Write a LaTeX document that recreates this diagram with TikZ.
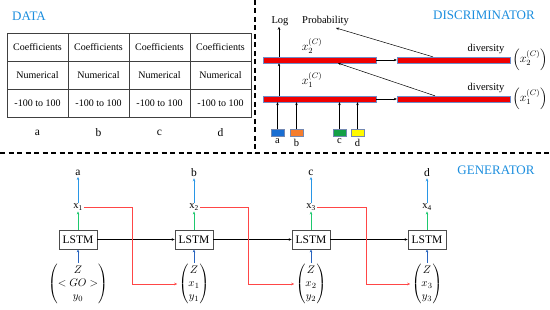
\documentclass[tikz,border=0pt]{standalone}
\usepackage{amsmath}
\usepackage{fontspec}
\setmainfont{Liberation Serif}
\usetikzlibrary{arrows.meta,calc}
\definecolor{ttl}{RGB}{28,142,222}
\definecolor{barred}{RGB}{240,0,0}
\definecolor{baredge}{RGB}{110,140,200}
\definecolor{lred}{RGB}{255,70,70}
\definecolor{lblue}{RGB}{40,150,230}
\definecolor{dblue}{RGB}{40,100,190}
\definecolor{lgreen}{RGB}{30,200,110}
\definecolor{bxblue}{RGB}{25,110,210}
\definecolor{bxorange}{RGB}{245,125,45}
\definecolor{bxgreen}{RGB}{20,160,70}
\definecolor{bxyellow}{RGB}{255,250,0}
\tikzset{
  title/.style={text=ttl,font=\fontsize{13}{15}\selectfont,inner sep=0pt},
  cell/.style={draw=black!75,line width=0.7pt,minimum width=61pt,minimum height=28pt,inner sep=0pt,font=\fontsize{10}{12}\selectfont},
  lbl/.style={font=\fontsize{11.5}{13}\selectfont,inner sep=1pt},
  txt/.style={font=\fontsize{10.5}{12}\selectfont,inner sep=1pt},
  mth/.style={font=\fontsize{12}{14}\selectfont,inner sep=1pt},
  bar/.style={draw=baredge,fill=barred,line width=0.3pt,minimum width=113pt,minimum height=6pt,inner sep=0pt},
  sbox/.style={draw=baredge!70!gray,line width=0.4pt,minimum width=13pt,minimum height=7pt,inner sep=0pt},
  lstm/.style={draw=black!70,fill=white,line width=0.7pt,minimum width=38pt,minimum height=19pt,inner sep=0pt,font=\fontsize{11.5}{13}\selectfont},
  vec/.style={font=\fontsize{11}{13}\selectfont,inner sep=1.5pt},
  arr/.style={-{Stealth[length=3pt,width=2.5pt]},line width=0.5pt},
  dsh/.style={dash pattern=on 5pt off 3.5pt,line width=1.3pt}
}
\begin{document}
\begin{tikzpicture}[x=1pt,y=-1pt]
\useasboundingbox (0,0) rectangle (550,310);
% dashed separators
\draw[dsh] (255,0) -- (255,153);
\draw[dsh] (0,153) -- (550,153);
% titles
\node[title] (tdata) at (29,16) {DATA};
\node[title] (tdisc) at (484,15) {DISCRIMINATOR};
\node[title] (tgen) at (496,170) {GENERATOR};
% table
\foreach \i/\l in {1/a,2/b,3/c,4/d}{
  \node[cell] (co\i) at (7+61*\i-30.5,47) {Coefficients};
  \node[cell] (nu\i) at (7+61*\i-30.5,75) {Numerical};
  \node[cell] (rg\i) at (7+61*\i-30.5,103) {-100 to 100};
  \node[lbl] (tl\i) at (7+61*\i-30.5,133) {\l};
}
% discriminator
\node[bar] (ul) at (319.5,60) {};
\node[bar] (ur) at (453.5,60) {};
\node[bar] (ll) at (319.5,99) {};
\node[bar] (lr) at (453.5,99) {};
\node[txt] (log) at (280,21) {Log};
\node[txt] (prob) at (325.5,21) {Probability};
\node[mth] (x2c) at (312,46) {$x_2^{(C)}$};
\node[mth] (x1c) at (312,80) {$x_1^{(C)}$};
\node[txt] (dv2) at (486,49) {diversity};
\node[txt] (dv1) at (486,88) {diversity};
\node[mth] (r2) at (530,60) {$\left(x_2^{(C)}\right)$};
\node[mth] (r1) at (530,99) {$\left(x_1^{(C)}\right)$};
\draw[arr] (ul.east) -- (ur.west);
\draw[arr] (ll.east) -- (lr.west);
\coordinate (lx) at (279,0);
\draw[arr] (ll.north -| lx) -- (ul.south -| lx);
\draw[arr] (ul.north -| lx) -- (lx |- log.south);
\coordinate (d2) at (433,0);
\coordinate (d1) at (435,0);
\coordinate (pt) at (336,28);
\coordinate (ut) at (338,0);
\draw[arr] (ur.north -| d2) -- (pt);
\draw[arr] (lr.north -| d1) -- (ul.south -| ut);
\node[sbox,fill=bxblue] (ba) at (277.5,133) {};
\node[sbox,fill=bxorange] (bb) at (296.5,133) {};
\node[sbox,fill=bxgreen] (bc) at (339.5,133) {};
\node[sbox,fill=bxyellow] (bd) at (357.5,133) {};
\foreach \b/\l in {ba/a,bb/b,bc/c,bd/d}{
  \node[txt,anchor=north] (l\b) at ($(\b.south)+(0,1)$) {\l};
  \draw[arr] (\b.north) -- (ll.south -| \b.north);
}
% generator
\foreach \i/\x/\o in {1/78/a,2/194/b,3/311/c,4/427/d}{
  \node[lstm] (L\i) at (\x,239.5) {LSTM};
  \node[txt] (x\i) at (\x,207) {x$_{\mathrm{\i}}$};
  \node[lbl] (o\i) at (\x,173) {\o};
  \draw[arr,lgreen] (L\i.north) -- (x\i.south);
  \draw[arr,lblue] (x\i.north) -- (o\i.south);
}
\node[vec] (v1) at (78,284) {$\begin{pmatrix} Z\\ <GO>\\ y_0\end{pmatrix}$};
\node[vec] (v2) at (194,284) {$\begin{pmatrix} Z\\ x_1\\ y_1\end{pmatrix}$};
\node[vec] (v3) at (311,284) {$\begin{pmatrix} Z\\ x_2\\ y_2\end{pmatrix}$};
\node[vec] (v4) at (427,284) {$\begin{pmatrix} Z\\ x_3\\ y_3\end{pmatrix}$};
\foreach \i in {1,2,3,4}{
  \draw[arr,dblue] (v\i.north) -- (L\i.south);
}
\draw[arr] (L1.east) -- (L2.west);
\draw[arr] (L2.east) -- (L3.west);
\draw[arr] (L3.east) -- (L4.west);
\coordinate (rx1) at (132,0);
\coordinate (rx2) at (248,0);
\coordinate (rx3) at (366,0);
\draw[arr,lred,line width=0.8pt] (x1.east) -- (x1.east -| rx1) -- (rx1 |- v2.west) -- (v2.west);
\draw[arr,lred,line width=0.8pt] (x2.east) -- (x2.east -| rx2) -- (rx2 |- v3.west) -- (v3.west);
\draw[arr,lred,line width=0.8pt] (x3.east) -- (x3.east -| rx3) -- (rx3 |- v4.west) -- (v4.west);
\end{tikzpicture}
\end{document}
